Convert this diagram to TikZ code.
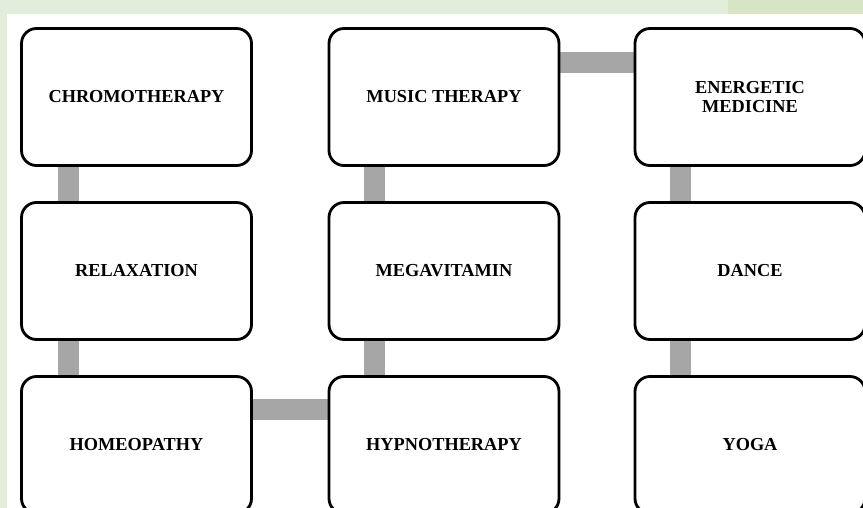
\documentclass[tikz,border=0pt]{standalone}
\usepackage{fontspec}
\setmainfont{Liberation Serif}
\usetikzlibrary{calc,backgrounds,shadows}
\definecolor{bgA}{RGB}{226,237,219}
\definecolor{bgB}{RGB}{214,230,196}
\definecolor{barc}{RGB}{166,166,166}
\tikzset{
  tbox/.style={draw=black, line width=2.8pt, rounded corners=15pt, fill=white,
    minimum width=230pt, minimum height=137pt, align=center,
    font=\fontsize{18.3}{19.5}\selectfont\bfseries,
    drop shadow={opacity=0.35, shadow xshift=1pt, shadow yshift=-1pt}},
  bar/.style={draw=barc, line width=21pt}
}
\begin{document}
\begin{tikzpicture}[x=1pt,y=-1pt]
\useasboundingbox (0,0) rectangle (863,508);
\node[tbox] (chromo) at (136.5,97) {CHROMOTHERAPY};
\node[tbox] (music)  at (444,97) {MUSIC THERAPY};
\node[tbox] (energ)  at (750,97) {ENERGETIC\\MEDICINE};
\node[tbox] (relax)  at (136.5,271) {RELAXATION};
\node[tbox] (mega)   at (444,271) {MEGAVITAMIN};
\node[tbox] (dance)  at (750,271) {DANCE};
\node[tbox] (homeo)  at (136.5,445) {HOMEOPATHY};
\node[tbox] (hypno)  at (444,445) {HYPNOTHERAPY};
\node[tbox] (yoga)   at (750,445) {YOGA};
\begin{pgfonlayer}{background}
\fill[bgA] (0,0) rectangle (863,14);
\fill[bgB] (728,0) rectangle (863,14);
\fill[bgA] (0,0) rectangle (7,508);
\fill[white] (7,14) rectangle (863,508);
\draw[bar] ($(chromo.south west)+(48,0)$) -- ($(relax.north west)+(48,0)$);
\draw[bar] ($(relax.south west)+(48,0)$) -- ($(homeo.north west)+(48,0)$);
\draw[bar] ($(music.south west)+(47,0)$) -- ($(mega.north west)+(47,0)$);
\draw[bar] ($(mega.south west)+(47,0)$) -- ($(hypno.north west)+(47,0)$);
\draw[bar] ($(energ.south west)+(47,0)$) -- ($(dance.north west)+(47,0)$);
\draw[bar] ($(dance.south west)+(47,0)$) -- ($(yoga.north west)+(47,0)$);
\draw[bar] ($(music.north east)+(0,35)$) -- ($(energ.north west)+(0,35)$);
\draw[bar] ($(homeo.north east)+(0,34)$) -- ($(hypno.north west)+(0,34)$);
\end{pgfonlayer}
\end{tikzpicture}
\end{document}
